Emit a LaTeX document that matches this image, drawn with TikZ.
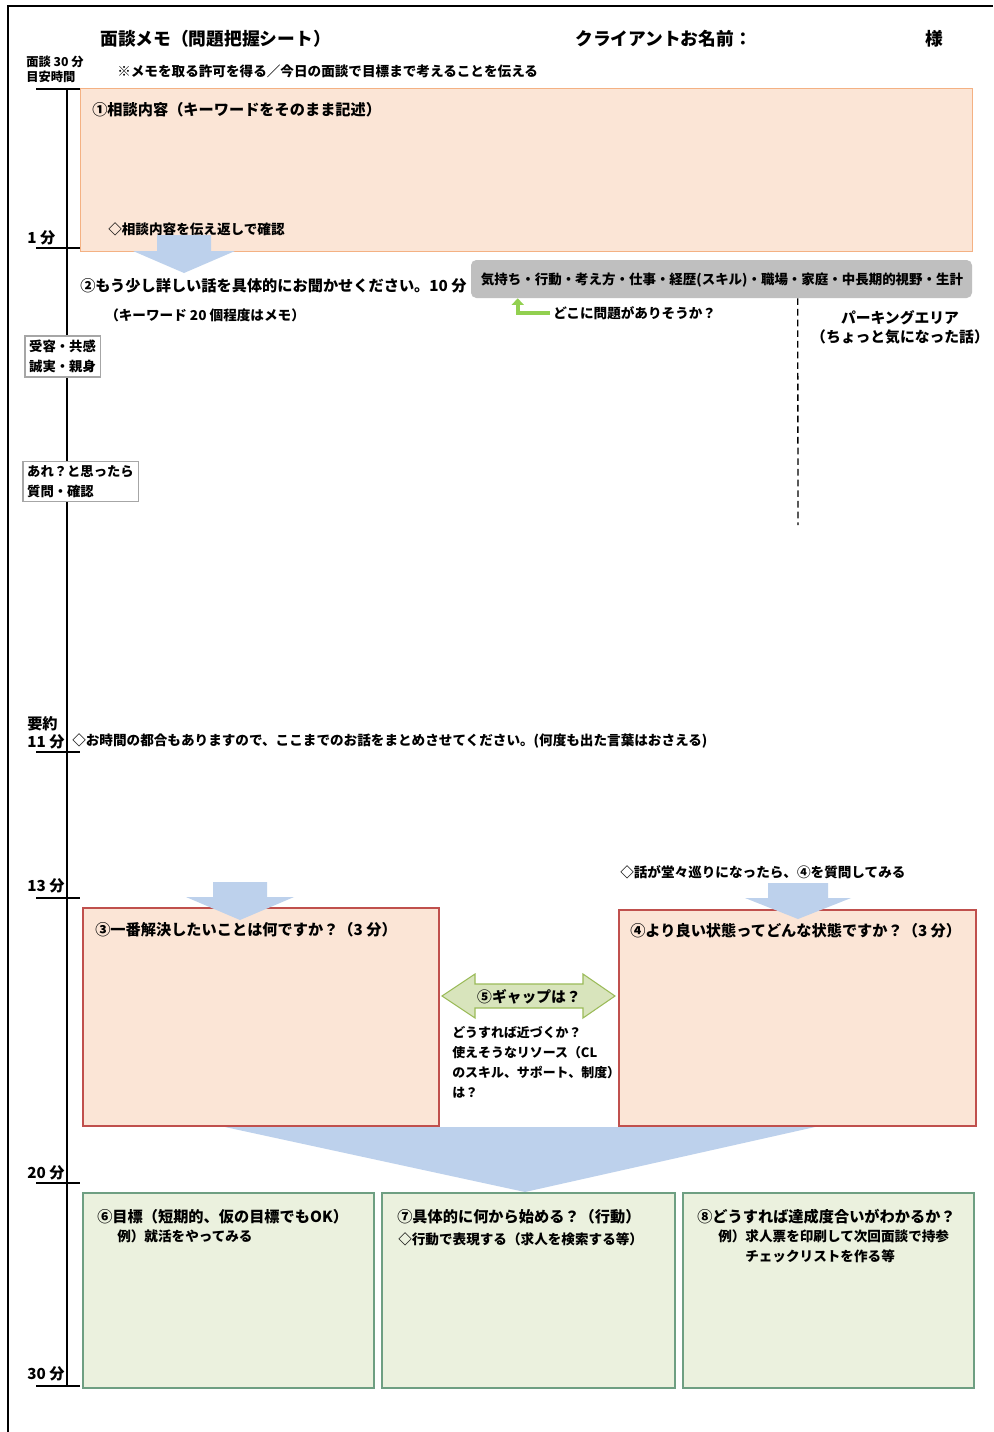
\documentclass[tikz,border=0pt]{standalone}
\usepackage{fontspec}
\setmainfont{Noto Sans CJK JP}
\usetikzlibrary{arrows.meta,fit,calc}

\definecolor{peach}{HTML}{FBE5D6}
\definecolor{peachline}{HTML}{F4B183}
\definecolor{redline}{HTML}{C0504D}
\definecolor{flowblue}{HTML}{BDD1EC}
\definecolor{bargray}{HTML}{BFBFBF}
\definecolor{leafgreen}{HTML}{92D050}
\definecolor{gapfill}{HTML}{D8E4BC}
\definecolor{gapline}{HTML}{9BBB59}
\definecolor{planfill}{HTML}{EBF1DE}
\definecolor{planline}{HTML}{6E9F82}
\definecolor{labelline}{HTML}{A6A6A6}

\begin{document}
\begin{tikzpicture}[x=0.75pt,y=-0.75pt,
  every node/.style={inner sep=0pt},
  txtL/.style={font=\bfseries\fontsize{13.3}{15}\selectfont, anchor=west},
  txtM/.style={font=\bfseries\fontsize{11.4}{14}\selectfont, anchor=west},
  txtS/.style={font=\bfseries\fontsize{10.2}{15}\selectfont, anchor=west},
  tiny/.style={font=\bfseries\fontsize{9.2}{11.3}\selectfont, anchor=west, align=left},
  timeline/.style={line width=1pt, black},
  peachbox/.style={fill=peach, draw=redline, line width=1.1pt, inner sep=0pt},
  planbox/.style={fill=planfill, draw=planline, line width=1.1pt, inner sep=0pt},
  lblbox/.style={draw=labelline, fill=white, line width=0.9pt, align=left,
    inner xsep=3.2pt, inner ysep=3pt, font=\bfseries\fontsize{10}{15}\selectfont},
  flow/.style={fill=flowblue, draw=none},
]
\useasboundingbox (0,0) rectangle (993,1432);
\fill[white] (0,0) rectangle (993,1432);

% page frame
\draw[line width=1.5pt] (8,1432) -- (8,6) -- (993,6);

% header
\node[txtL] (title) at (100,39) {面談メモ（問題把握シート）};
\node[txtL] (client) at (575,39) {クライアントお名前：};
\node[txtL] (sama) at (925,39) {様};
\node[tiny] (plan) at (26,69) {面談 30 分\\目安時間};
\node[txtS] (permit) at (117,71) {※メモを取る許可を得る／今日の面談で目標まで考えることを伝える};

% time axis with minute ticks
\draw[timeline] (67,89) -- (67,1386);
\foreach \yy in {89,248,752,898,1183,1386}
  \draw[timeline] (36,\yy) -- (80,\yy);
\node[txtM] (t1) at (27,238) {1 分};
\node[txtM] (sumlbl) at (27,724) {要約};
\node[txtM] (t11) at (27,742) {11 分};
\node[txtM] (t13) at (27,886) {13 分};
\node[txtM] (t20) at (27,1173) {20 分};
\node[txtM] (t30) at (27,1374) {30 分};

% side reminders on the axis
\node[lblbox] (accept) at (62.5,356.5) {受容・共感\\誠実・親身};
\node[lblbox] (ask) at (80.5,481.5) {あれ？と思ったら\\質問・確認};

% 1: consultation content
\node[fit={(80,88) (972,251)}, fill=peach, draw=peachline, line width=0.6pt, inner sep=0pt] (b1) {};
\node[txtM] (b1t) at (92,110) {①相談内容（キーワードをそのまま記述）};
\node[txtS] (b1n) at (108,229) {◇相談内容を伝え返しで確認};
\path[flow] (157,235) -- (211,235) -- (211,251) -- (235,251) -- (184,273)
  -- (133,251) -- (157,251) -- cycle;

% 2: listening in detail
\node[txtM] (q2) at (80,286) {②もう少し詳しい話を具体的にお聞かせください。10 分};
\node[txtS] (q2n) at (105,315) {（キーワード 20 個程度はメモ）};

\node[fit={(471,260) (972,298)}, fill=bargray, rounded corners=4pt, inner sep=0pt] (bar) {};
\node[font=\bfseries\fontsize{10.1}{12}\selectfont] (bart) at (722,280)
  {気持ち・行動・考え方・仕事・経歴(スキル)・職場・家庭・中長期的視野・生計};

\coordinate (gA) at (550,313);
\draw[leafgreen, line width=3pt, -{Triangle[width=9pt,length=5pt]}]
  (gA) -| ($(bar.south west)+(47,0)$);
\node[txtS] (where) at (553,313) {どこに問題がありそうか？};

% parking area
\coordinate (parkEnd) at (798,525);
\draw[line width=1pt, dash pattern=on 5pt off 3pt] ($(bar.south west)+(327,0)$) -- (parkEnd);
\node[font=\bfseries\fontsize{11.1}{14.3}\selectfont, align=center] (park) at (900,327)
  {パーキングエリア\\（ちょっと気になった話）};

% summary
\node[txtS] (summary) at (72,741)
  {◇お時間の都合もありますので、ここまでのお話をまとめさせてください。(何度も出た言葉はおさえる)};

\node[txtS] (loop) at (620,872) {◇話が堂々巡りになったら、④を質問してみる};

% 3 and 4
\node[fit={(83,908) (439,1126)}, peachbox] (b3) {};
\node[txtM] (b3t) at (95,930) {③一番解決したいことは何ですか？（3 分）};
\node[fit={(619,910) (976,1126)}, peachbox] (b4) {};
\node[txtM] (b4t) at (630,931) {④より良い状態ってどんな状態ですか？（3 分）};

\path[flow] (213,882) -- (267,882) -- (267,897) -- (294,897) -- (240,920)
  -- (186,897) -- (213,897) -- cycle;
\path[flow] (768,883) -- (828,883) -- (828,898) -- (851,898) -- (798,919)
  -- (745,898) -- (768,898) -- cycle;

% 5: gap
\path[fill=gapfill, draw=gapline, line width=0.8pt]
  (442,996) -- (475,974) -- (475,984) -- (583,984) -- (583,974) -- (615,996)
  -- (583,1018) -- (583,1008) -- (475,1008) -- (475,1018) -- cycle;
\node[font=\bfseries\fontsize{11.1}{14}\selectfont] (gap) at (529,997) {⑤ギャップは？};
\node[font=\bfseries\fontsize{9.7}{15}\selectfont, anchor=north west, align=left] (gapq) at (452,1026)
  {どうすれば近づくか？\\使えそうなリソース（CL\\のスキル、サポート、制度）\\は？};

% merging flow into the plan
\path[flow] (225,1127) -- (815,1127) -- (525,1192) -- cycle;

% 6, 7, 8
\node[fit={(83,1193) (374,1388)}, planbox] (b6) {};
\node[fit={(382,1193) (675,1388)}, planbox] (b7) {};
\node[fit={(683,1193) (974,1388)}, planbox] (b8) {};
\node[txtM] (b6t) at (97,1217) {⑥目標（短期的、仮の目標でもOK）};
\node[txtS] (b6n) at (117,1236) {例）就活をやってみる};
\node[txtM] (b7t) at (397,1217) {⑦具体的に何から始める？（行動）};
\node[txtS] (b7n) at (398,1239) {◇行動で表現する（求人を検索する等）};
\node[txtM] (b8t) at (697,1217) {⑧どうすれば達成度合いがわかるか？};
\node[txtS] (b8n) at (718,1236) {例）求人票を印刷して次回面談で持参};
\node[txtS] (b8m) at (745,1256) {チェックリストを作る等};
\end{tikzpicture}
\end{document}
